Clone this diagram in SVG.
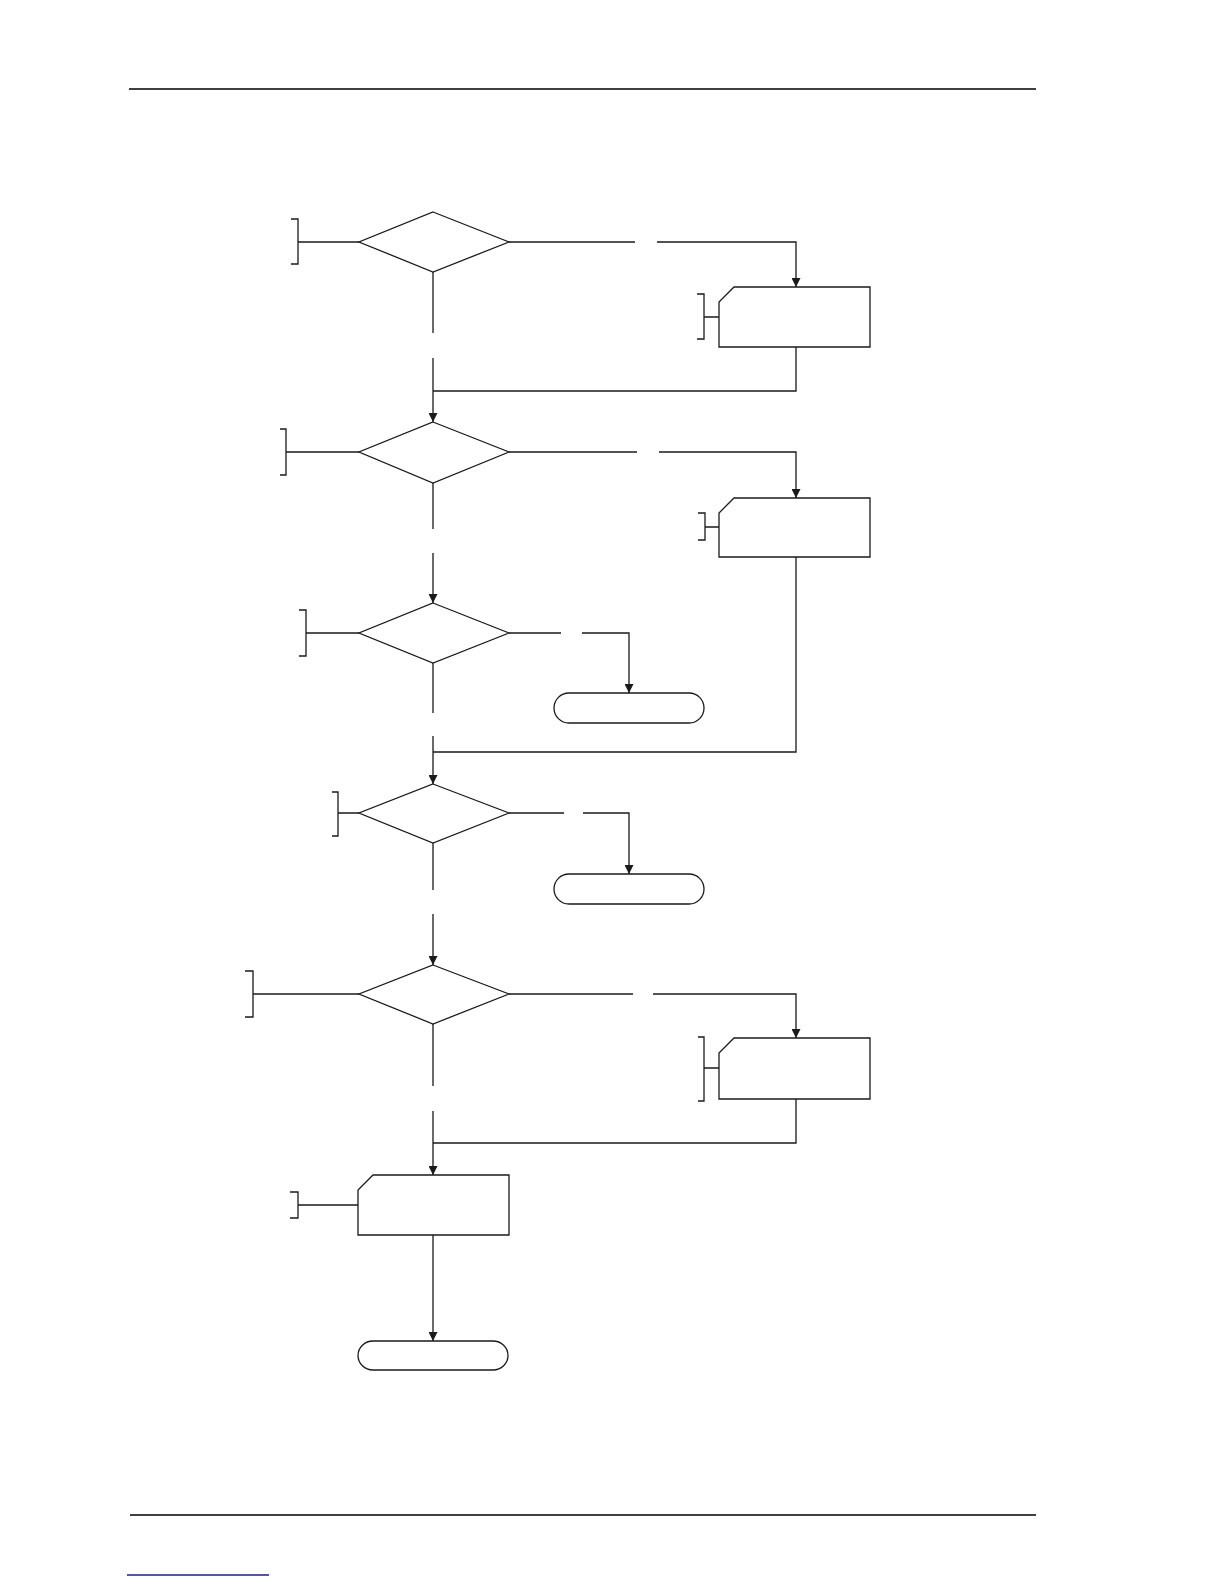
<svg xmlns="http://www.w3.org/2000/svg" width="1224" height="1584" viewBox="0 0 1224 1584">
<style>
.s{fill:none;stroke:#1a1a1a;stroke-width:1.3}
.n{fill:#fff;stroke:#1a1a1a;stroke-width:1.3}
</style>
<defs>
<marker id="a" viewBox="0 0 10 10" refX="10" refY="5" markerWidth="9" markerHeight="9" markerUnits="userSpaceOnUse" orient="auto"><path d="M0,0 L10,5 L0,10 Z" fill="#1a1a1a"/></marker>
</defs>
<rect width="1224" height="1584" fill="#fff"/>
<line x1="129" y1="89" x2="1036" y2="89" stroke="#000" stroke-width="1.5"/>
<line x1="130" y1="1515" x2="1036" y2="1515" stroke="#000" stroke-width="1.5"/>
<line x1="127" y1="1575" x2="269" y2="1575" stroke="#1c1c8a" stroke-width="1.3"/>
<g id="connectors" class="s">
<path d="M509,242 H635 M657,242 H796 V287" marker-end="url(#a)"/>
<path d="M433,272 V333 M433,358 V422" marker-end="url(#a)"/>
<path d="M796,347 V391 H433"/>
<path d="M509,452 H637 M659,452 H796 V498" marker-end="url(#a)"/>
<path d="M433,483 V529 M433,553 V603" marker-end="url(#a)"/>
<path d="M509,633 H561 M582,633 H629 V693" marker-end="url(#a)"/>
<path d="M796,557 V752 H433"/>
<path d="M433,663 V713 M433,736 V784" marker-end="url(#a)"/>
<path d="M509,813 H564 M583,813 H629 V874" marker-end="url(#a)"/>
<path d="M433,843 V890 M433,914 V965" marker-end="url(#a)"/>
<path d="M509,994 H633 M653,994 H796 V1038" marker-end="url(#a)"/>
<path d="M796,1099 V1143 H433"/>
<path d="M433,1024 V1086 M433,1111 V1175" marker-end="url(#a)"/>
<path d="M433,1235 V1341" marker-end="url(#a)"/>
</g>
<g id="d1"><path class="n" d="M433,212 L509,242 L433,272 L359,242 Z"/><path class="s" d="M291,219 H298 V264 H291 M298,242 H359"/></g>
<g id="p1"><path class="n" d="M734,287 H870 V347 H719 V302 Z"/><path class="s" d="M697,294 H704 V339 H697 M704,317 H719"/></g>
<g id="d2"><path class="n" d="M433,422 L509,452 L433,483 L359,452 Z"/><path class="s" d="M280,429 H286 V475 H280 M286,452 H359"/></g>
<g id="p2"><path class="n" d="M734,498 H870 V557 H719 V513 Z"/><path class="s" d="M698,513 H705 V540 H698 M705,527 H719"/></g>
<g id="d3"><path class="n" d="M433,603 L509,633 L433,663 L359,633 Z"/><path class="s" d="M299,610 H306 V656 H299 M306,633 H359"/></g>
<g id="t1"><rect class="n" x="554" y="693" width="150" height="30" rx="15" ry="15"/></g>
<g id="d4"><path class="n" d="M433,784 L509,813 L433,843 L359,813 Z"/><path class="s" d="M332,792 H338 V836 H332 M338,813 H359"/></g>
<g id="t2"><rect class="n" x="554" y="874" width="150" height="30" rx="15" ry="15"/></g>
<g id="d5"><path class="n" d="M433,965 L509,994 L433,1024 L359,994 Z"/><path class="s" d="M245,971 H253 V1017 H245 M253,994 H359"/></g>
<g id="p3"><path class="n" d="M734,1038 H870 V1099 H719 V1053 Z"/><path class="s" d="M698,1037 H704 V1101 H698 M704,1068 H719"/></g>
<g id="p4"><path class="n" d="M373,1175 H509 V1235 H358 V1190 Z"/><path class="s" d="M290,1192 H298 V1218 H290 M298,1205 H358"/></g>
<g id="t3"><rect class="n" x="358" y="1341" width="150" height="29" rx="15" ry="14.5"/></g>
</svg>
